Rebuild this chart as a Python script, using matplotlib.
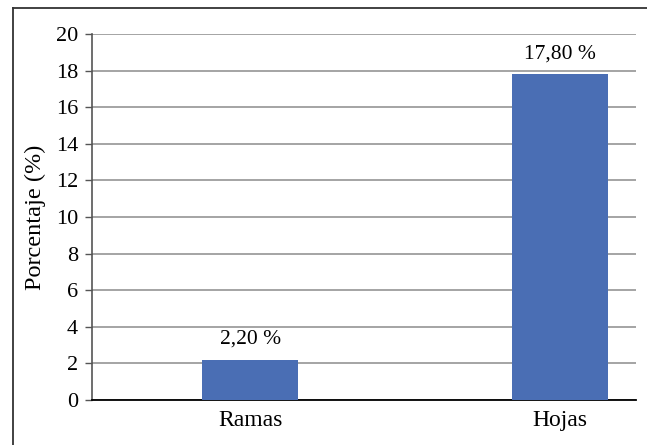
import matplotlib.pyplot as plt
from matplotlib.lines import Line2D

# datos
categorias = ["Ramas", "Hojas"]
porcentajes = [2.20, 17.80]
etiquetas = ["2,20 %", "17,80 %"]
yticks = [0, 2, 4, 6, 8, 10, 12, 14, 16, 18, 20]

plt.rcParams['font.family'] = ['Liberation Serif', 'DejaVu Serif']

fig = plt.figure(figsize=(6.47, 4.45), dpi=100)
ax = fig.add_axes([92 / 647, 45 / 445, 544 / 647, 366 / 445])

x = list(range(len(categorias)))
ax.bar(x, porcentajes, width=0.31, color='#4A6EB4', zorder=3)

for xi, v, lab in zip(x, porcentajes, etiquetas):
    ax.annotate(lab, (xi, v), xytext=(0, 8), textcoords='offset points',
                ha='center', va='bottom', fontsize=15.5)

ax.set_xlim(-0.51, 1.245)
ax.set_ylim(0, 20)
ax.set_yticks(yticks)
ax.set_xticks(x)
ax.set_xticklabels(categorias)
ax.tick_params(axis='y', labelsize=16, length=5, width=1, color='#555555', pad=5)
ax.tick_params(axis='x', labelsize=17, length=0, pad=7)
ax.set_ylabel('Porcentaje (%)', fontsize=17.5, labelpad=7)

ax.grid(axis='y', color='#959595', linewidth=1.2, zorder=0)
ax.spines['top'].set_visible(False)
ax.spines['right'].set_visible(False)
ax.spines['left'].set_color('#555555')
ax.spines['left'].set_linewidth(1.2)
ax.spines['bottom'].set_color('black')
ax.spines['bottom'].set_linewidth(1.3)

# marco exterior (solo izquierda y arriba visibles)
fig.add_artist(Line2D([13 / 647, 13 / 647], [0, 1 - 8 / 445], color='#333333', lw=1.3))
fig.add_artist(Line2D([13 / 647, 1], [1 - 8 / 445, 1 - 8 / 445], color='#333333', lw=1.3))

fig.savefig('out.png', dpi=100)
